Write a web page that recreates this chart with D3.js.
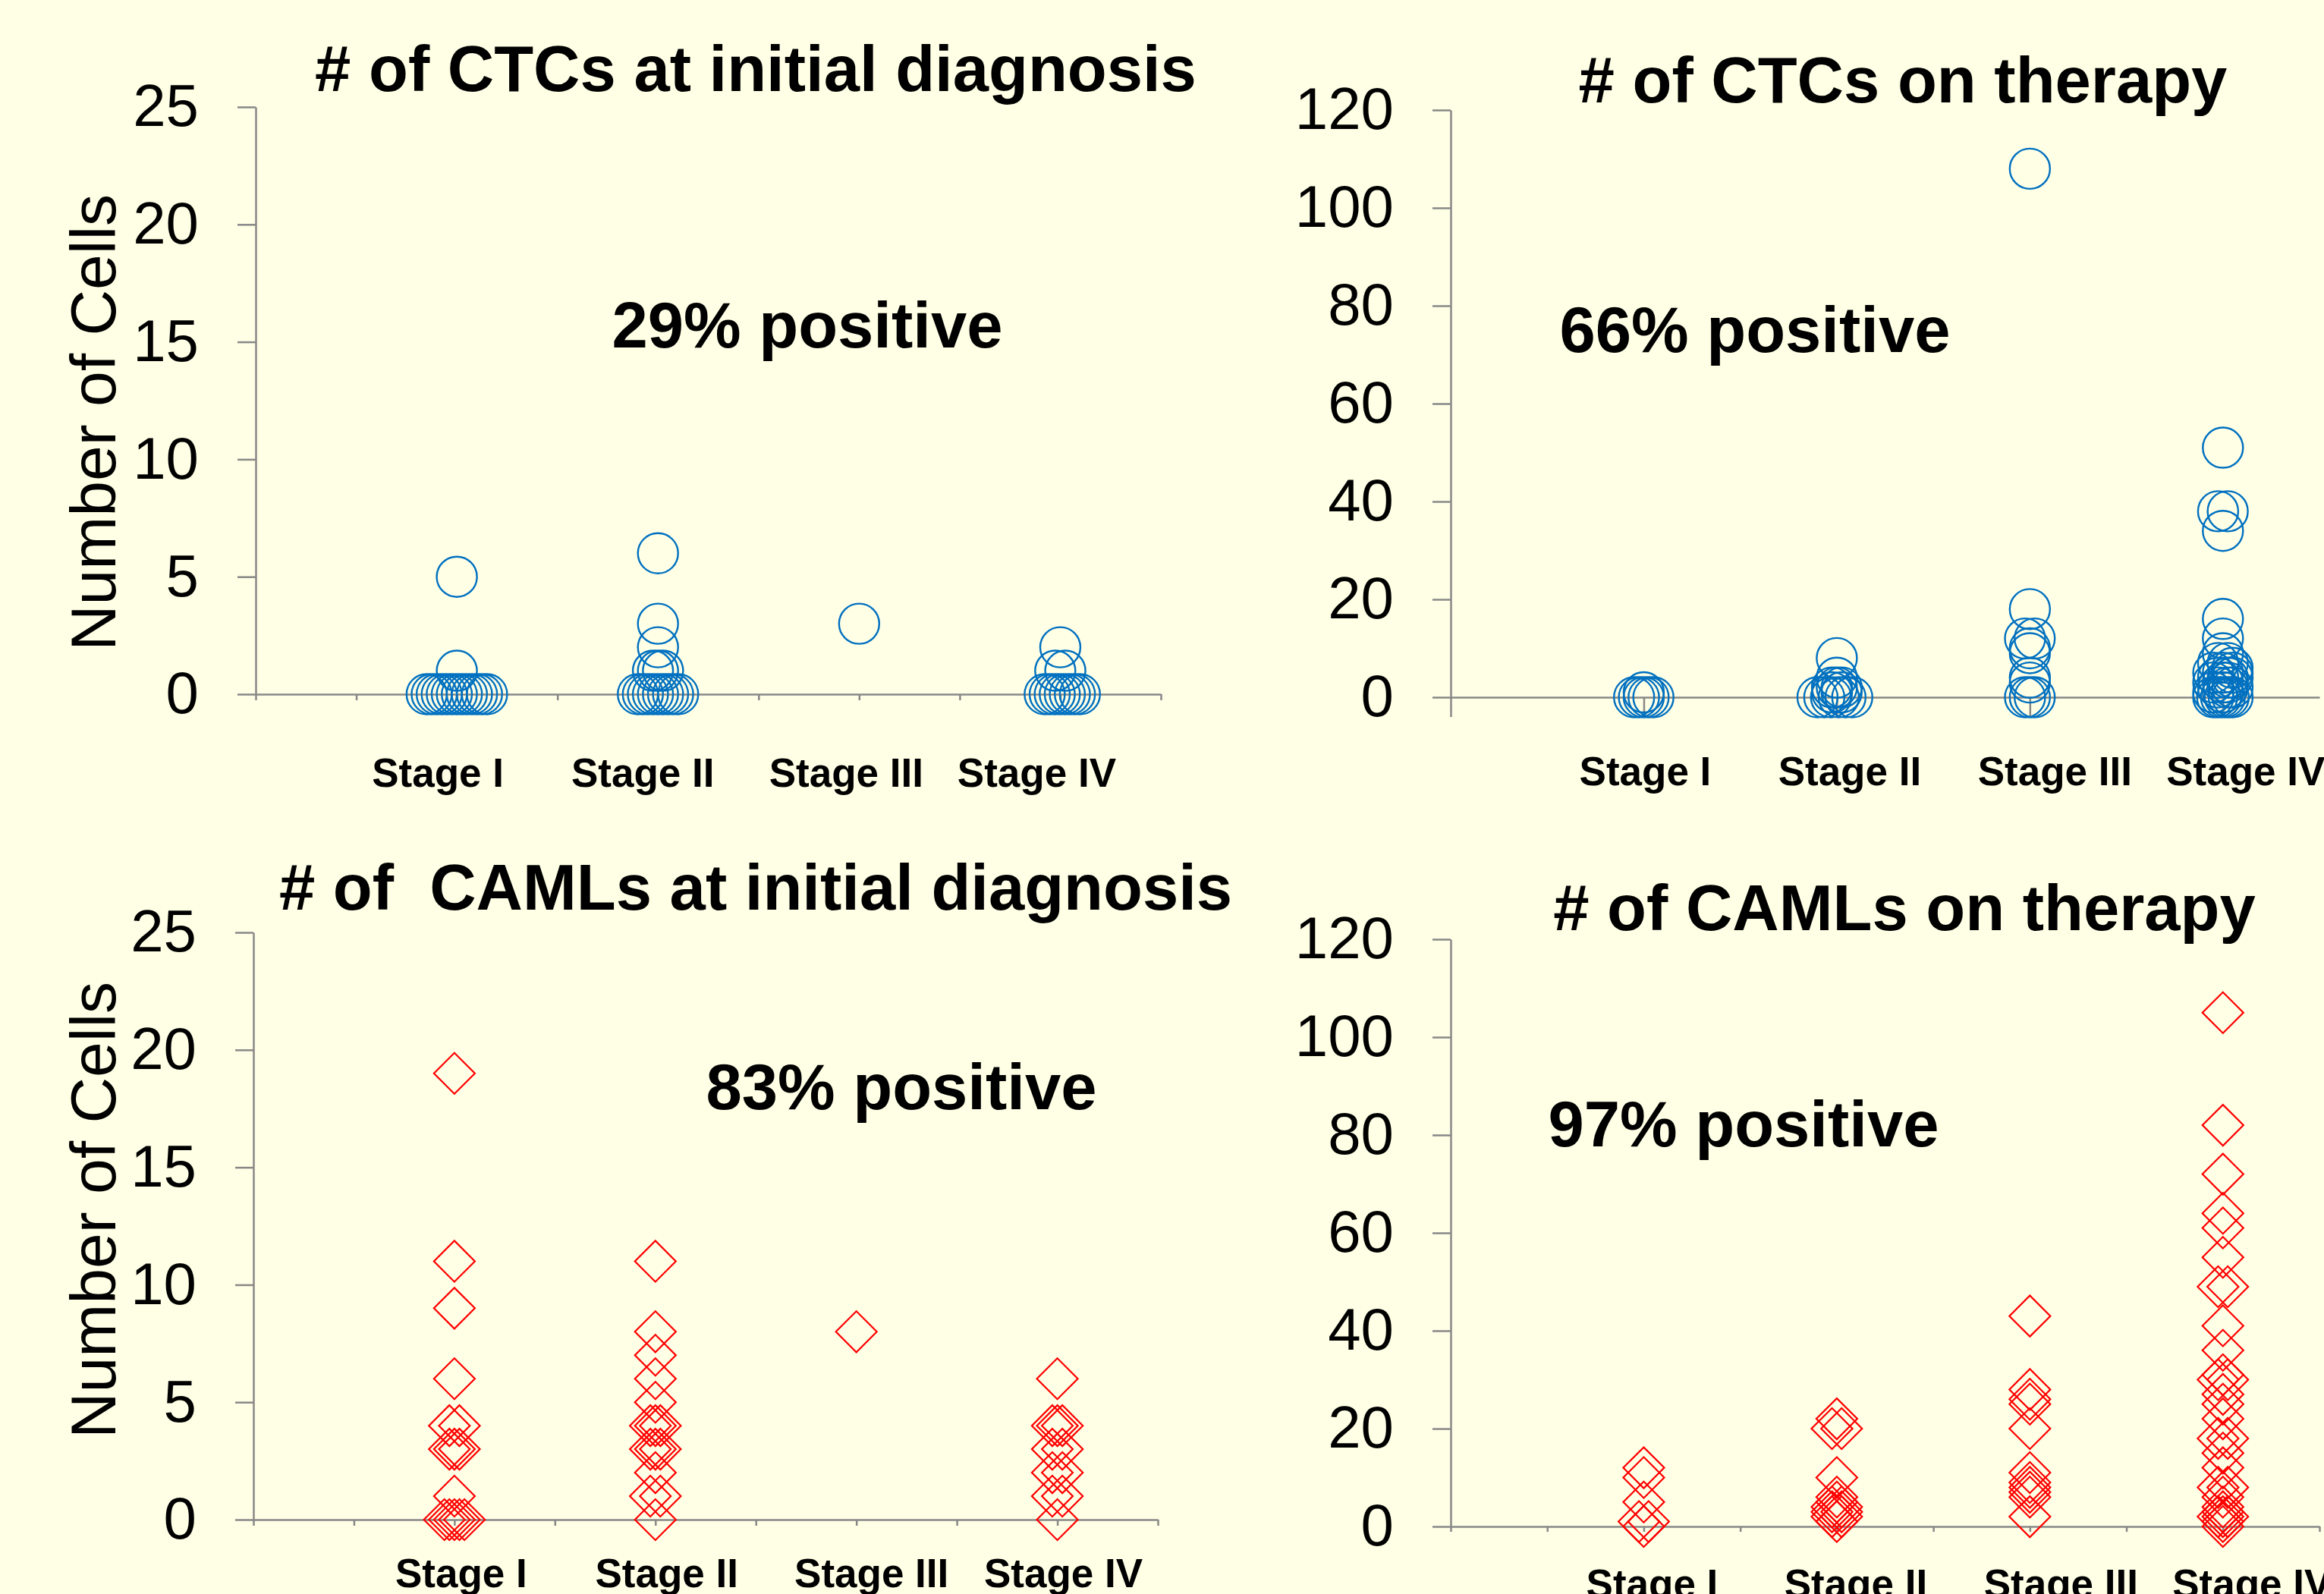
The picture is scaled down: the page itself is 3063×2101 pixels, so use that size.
<!DOCTYPE html>
<html><head><meta charset="utf-8">
<script src="https://cdn.jsdelivr.net/npm/d3@7"></script>
<style>
html,body{margin:0;padding:0;background:#FFFFE6;}
svg{display:block;}
text{font-family:"Liberation Sans",Arial,Helvetica,sans-serif;}
</style></head><body>
<svg id="chart" width="3063" height="2101"></svg>
<script>
// ---------- data ----------
const stageLabels = ["Stage I", "Stage II", "Stage III", "Stage IV"];
const stagePositions = [2, 4, 6, 8];
const yTicksDiagnosis = [0, 5, 10, 15, 20, 25];
const yTicksTherapy = [0, 20, 40, 60, 80, 100, 120];

// CTCs at initial diagnosis (per stage: cell counts, horizontal jitter in x-units)
const ctcDiagnosis = [
  [5, 1, 0, 0, 0, 0, 0, 0, 0, 0, 0, 0, 0, 0, 0],
  [6, 3, 2, 1, 1, 1, 0, 0, 0, 0, 0, 0, 0, 0, 0],
  [3],
  [2, 1, 1, 0, 0, 0, 0, 0, 0, 0, 0]
];
const ctcDiagnosisJitter = [
  [0, 0, -0.3, -0.25, -0.2, -0.15, -0.1, -0.05, 0, 0.05, 0.1, 0.15, 0.2, 0.25, 0.3],
  [0, 0, 0, -0.05, 0, 0.05, -0.2, -0.15, -0.1, -0.05, 0, 0.05, 0.1, 0.15, 0.2],
  [0],
  [0, -0.05, 0.05, -0.155, -0.105, -0.055, -0.005, 0.045, 0.095, 0.145, 0.195]
];

// CTCs on therapy
const ctcTherapy = [
  [1, 0, 0, 0, 0, 0],
  [8, 4, 2, 2, 2, 1, 1, 0, 0, 0, 0, 0, 0],
  [108, 18, 12, 12, 10, 9, 4, 3, 0, 0, 0],
  [51, 38, 38, 34, 16, 12, 9, 7, 7, 6, 5, 5, 5, 4, 4, 4, 3, 3, 3, 2, 2, 2, 1, 1, 0, 0, 0, 0, 0, 0]
];
const ctcTherapyJitter = [
  [0, -0.1, -0.05, 0, 0.05, 0.1],
  [0, 0, -0.05, 0, 0.05, -0.05, 0.05, -0.2, -0.13, -0.06, 0.02, 0.09, 0.16],
  [0, 0, -0.05, 0.05, 0, 0, 0, 0, -0.05, 0, 0.05],
  [0, -0.05, 0.05, 0, 0, 0, 0, -0.05, 0.05, 0.1, -0.1, 0, 0.1, -0.05, 0.05, 0.1, -0.1, 0, 0.05, -0.05, 0.05, 0.1, -0.1, 0, -0.1, -0.06, -0.02, 0.02, 0.06, 0.1]
];

// CAMLs at initial diagnosis
const camlDiagnosis = [
  [19, 11, 9, 6, 4, 4, 3, 3, 3, 1, 0, 0, 0, 0, 0],
  [11, 8, 7, 6, 5, 4, 4, 4, 3, 3, 3, 2, 1, 1, 0],
  [8],
  [6, 4, 4, 4, 3, 3, 2, 2, 1, 1, 0]
];
const camlDiagnosisJitter = [
  [0, 0, 0, 0, -0.05, 0.05, -0.05, 0, 0.05, 0, -0.1, -0.05, 0, 0.05, 0.1],
  [0, 0, 0, 0, 0, -0.05, 0, 0.05, -0.05, 0, 0.05, 0, -0.05, 0.05, 0],
  [0],
  [0, -0.05, 0, 0.05, -0.05, 0.05, -0.05, 0.05, -0.05, 0.05, 0]
];

// CAMLs on therapy
const camlTherapy = [
  [12, 10, 5, 1, 1, 0],
  [22, 20, 20, 10, 6, 5, 4, 4, 3, 3, 2, 2, 1],
  [43, 28, 26, 25, 20, 11, 9, 8, 7, 6, 2],
  [105, 82, 72, 64, 61, 55, 49, 49, 41, 36, 31, 30, 30, 27, 25, 22, 18, 18, 15, 12, 8, 8, 6, 4, 3, 2, 2, 2, 1, 0]
];
const camlTherapyJitter = [
  [0, 0, 0, -0.05, 0.05, 0],
  [0, -0.05, 0.05, 0, 0, 0, -0.05, 0.05, -0.05, 0.05, -0.05, 0.05, 0],
  [0, 0, 0, 0, 0, 0, 0, 0, 0, 0, 0],
  [0, 0, 0, 0, 0, 0, -0.05, 0.05, 0, 0, 0, -0.05, 0.05, 0, 0, 0, -0.05, 0.05, 0, 0, -0.05, 0.05, 0, 0, 0, -0.05, 0, 0.05, 0, 0]
];

const titles = ["# of CTCs at initial diagnosis", "# of CTCs on therapy", "# of  CAMLs at initial diagnosis", "# of CAMLs on therapy"];
const notes = ["29% positive", "66% positive", "83% positive", "97% positive"];
const yAxisTitle = "Number of Cells";

// ---------- layout ----------
const BG = "#FFFFE6", AXIS = "#888888", BLUE = "#0070C0", RED = "#FF0000";
const panels = [
  {title: titles[0], note: notes[0], values: ctcDiagnosis, jitter: ctcDiagnosisJitter, marker: "circle",
   yMax: 25, yTicks: yTicksDiagnosis, xRange: [337, 1530], yRange: [915, 141],
   xTicks: d3.range(0, 10), xTickLen: 8,
   titlePos: [996, 120], notePos: [1064, 458], labelDx: [-25, -20, -17, -31], labelY: 1037, axisTitlePos: [152, 557]},
  {title: titles[1], note: notes[1], values: ctcTherapy, jitter: ctcTherapyJitter, marker: "circle",
   yMax: 120, yTicks: yTicksTherapy, xRange: [1912, 3057], yRange: [919, 145],
   xTicks: [0, 2, 4, 6, 8], xTickLen: 26,
   titlePos: [2508, 135], notePos: [2313, 464], labelDx: [2, 17, 33, 30], labelY: 1035, axisTitlePos: null},
  {title: titles[2], note: notes[2], values: camlDiagnosis, jitter: camlDiagnosisJitter, marker: "diamond",
   yMax: 25, yTicks: yTicksDiagnosis, xRange: [334, 1526], yRange: [2003, 1229],
   xTicks: d3.range(0, 10), xTickLen: 8,
   titlePos: [996, 1199], notePos: [1188, 1462], labelDx: [9, 15, 20, 8], labelY: 2092, axisTitlePos: [152, 1595]},
  {title: titles[3], note: notes[3], values: camlTherapy, jitter: camlTherapyJitter, marker: "diamond",
   yMax: 120, yTicks: yTicksTherapy, xRange: [1912, 3057], yRange: [2012, 1238],
   xTicks: d3.range(0, 10), xTickLen: 7,
   titlePos: [2510, 1226], notePos: [2298, 1511], labelDx: [11, 25, 41, 38], labelY: 2106, axisTitlePos: null}
];

const svg = d3.select("#chart");
svg.append("rect").attr("width", 3063).attr("height", 2101).attr("fill", BG);

const diamondPath = d3.symbol(d3.symbolSquare, 38.2 * 38.2)();

panels.forEach(p => {
  const x = d3.scaleLinear().domain([0, 9]).range(p.xRange);
  const y = d3.scaleLinear().domain([0, p.yMax]).range(p.yRange);
  const g = svg.append("g");

  // y axis
  const gy = g.append("g")
    .attr("transform", `translate(${p.xRange[0]},0)`)
    .call(d3.axisLeft(y).tickValues(p.yTicks).tickSize(24).tickSizeOuter(0).tickPadding(51));
  // x axis
  const gx = g.append("g")
    .attr("transform", `translate(0,${y(0)})`)
    .call(d3.axisBottom(x).tickValues(p.xTicks).tickSize(p.xTickLen).tickSizeOuter(0).tickFormat(""));

  [gx, gy].forEach(a => {
    a.attr("font-family", null).attr("font-size", null);
    a.selectAll("path, line").attr("stroke", AXIS).attr("stroke-width", 2.5);
  });
  gy.selectAll("text")
    .attr("font-size", 78).attr("fill", "#000")
    .attr("font-family", '"Liberation Sans", Arial, sans-serif');

  // markers
  const pts = [];
  p.values.forEach((arr, i) => arr.forEach((v, j) => pts.push({s: i, v: v, dx: p.jitter[i][j]})));
  if (p.marker === "circle") {
    g.append("g").selectAll("circle").data(pts).join("circle")
      .attr("cx", d => x(stagePositions[d.s] + d.dx))
      .attr("cy", d => y(d.v))
      .attr("r", 26.5)
      .attr("fill", "none").attr("stroke", BLUE).attr("stroke-width", 2.4);
  } else {
    g.append("g").selectAll("path").data(pts).join("path")
      .attr("d", diamondPath)
      .attr("transform", d => `translate(${x(stagePositions[d.s] + d.dx)},${y(d.v)}) rotate(45)`)
      .attr("fill", "none").attr("stroke", RED).attr("stroke-width", 2.2);
  }

  // category labels
  g.append("g").selectAll("text").data(stageLabels).join("text")
    .attr("x", (d, i) => x(stagePositions[i]) + p.labelDx[i])
    .attr("y", p.labelY)
    .attr("text-anchor", "middle")
    .attr("font-size", 53).attr("font-weight", "bold").attr("fill", "#000")
    .text(d => d);

  // title
  g.append("text")
    .attr("x", p.titlePos[0]).attr("y", p.titlePos[1])
    .attr("text-anchor", "middle")
    .attr("font-size", 85).attr("font-weight", "bold").attr("fill", "#000")
    .style("white-space", "pre")
    .text(p.title);

  // positive note
  g.append("text")
    .attr("x", p.notePos[0]).attr("y", p.notePos[1])
    .attr("text-anchor", "middle")
    .attr("font-size", 85).attr("font-weight", "bold").attr("fill", "#000")
    .text(p.note);

  // y axis title
  if (p.axisTitlePos) {
    g.append("text")
      .attr("transform", `translate(${p.axisTitlePos[0]},${p.axisTitlePos[1]}) rotate(-90)`)
      .attr("text-anchor", "middle")
      .attr("font-size", 84).attr("fill", "#000")
      .text(yAxisTitle);
  }
});
</script>
</body></html>
